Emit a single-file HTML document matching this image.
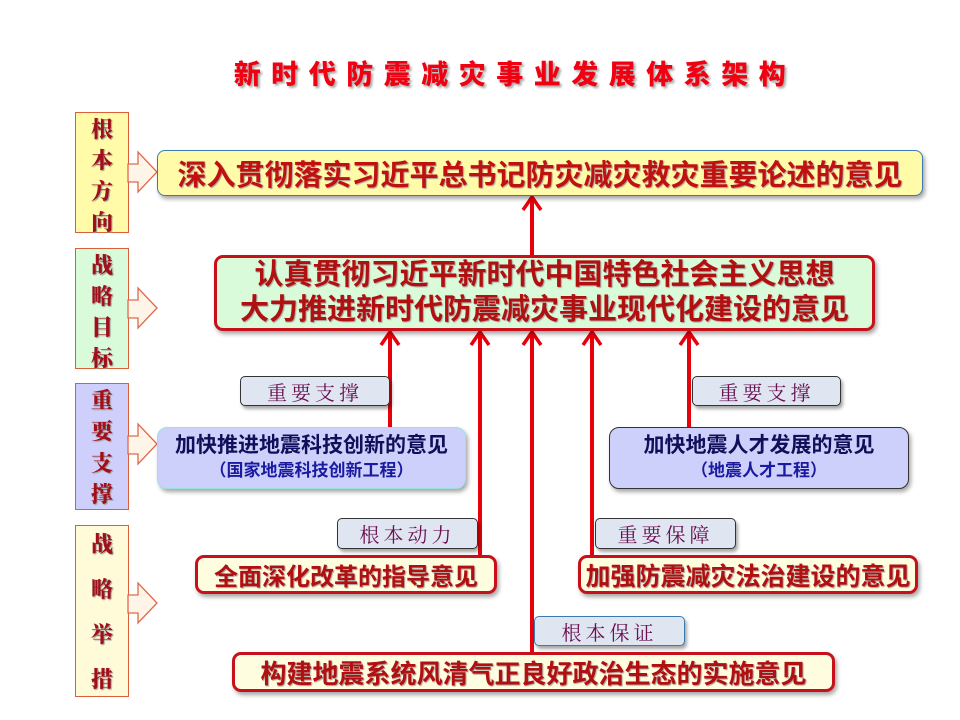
<!DOCTYPE html>
<html><head><meta charset="utf-8"><style>
body{margin:0;width:960px;height:720px;background:#fff;position:relative;overflow:hidden;font-family:"Liberation Sans","Noto Sans CJK SC",sans-serif}
.a{position:absolute;box-sizing:border-box}
.side{border:1.5px solid #d9603a;display:flex;flex-direction:column;justify-content:space-around;align-items:center;font-family:"Noto Serif CJK SC",serif;font-weight:900;font-size:22px;color:#a0101a;text-shadow:1px 1px 1px #999}
.box{display:flex;flex-direction:column;justify-content:center;align-items:center;font-weight:bold;text-align:center;box-shadow:2px 3px 4px rgba(0,0,0,.35);white-space:nowrap}
.red{border:3px solid #c8101a;border-radius:9px;color:#b01010;background:#fffde0;text-shadow:1px 1px 1px #a99}
.lbl{background:#dfe6f2;border:1px solid #333;border-radius:5px;font-family:"Noto Serif CJK SC",serif;font-size:20px;color:#6a1050;letter-spacing:4px;display:flex;align-items:center;justify-content:center;box-shadow:2px 3px 3px rgba(0,0,0,.35)}
.sup{background:#cdd0fb;border-radius:10px;color:#10105a;font-size:21px;line-height:25px}
.sup small{font-size:17px;color:#1a1aa0;font-weight:bold}
</style></head><body>
<div class="a" style="left:0;top:53px;width:1030px;text-align:center;font-size:27px;font-weight:900;color:#f00010;letter-spacing:10.5px;text-shadow:2px 2px 2px #aaa">新时代防震减灾事业发展体系架构</div>

<div class="a side" style="left:75px;top:112px;width:54px;height:121px;background:#fffba8"><span>根</span><span>本</span><span>方</span><span>向</span></div>
<div class="a side" style="left:75px;top:248px;width:54px;height:121px;background:#d9fbd9"><span>战</span><span>略</span><span>目</span><span>标</span></div>
<div class="a side" style="left:75px;top:383px;width:54px;height:127px;background:#cfcffb"><span>重</span><span>要</span><span>支</span><span>撑</span></div>
<div class="a side" style="left:75px;top:525px;width:54px;height:172px;background:#fffbd8;justify-content:center;gap:14px"><span>战</span><span>略</span><span>举</span><span>措</span></div>

<svg class="a" style="left:0;top:0" width="960" height="720">
<g fill="#fff4e8" stroke="#e06a4a" stroke-width="1.3">
<polygon points="128,164 138,164 138,152 157,172 138,192 138,182 128,182"/>
<polygon points="128,300 138,300 138,288 157,308 138,328 138,318 128,318"/>
<polygon points="128,436 138,436 138,424 157,444 138,464 138,454 128,454"/>
<polygon points="128,595 138,595 138,583 157,603 138,623 138,613 128,613"/>
</g>
<g stroke="#e8000a" stroke-width="4" fill="none">
<path d="M532 255V200M532 652V335M390 427V335M480 555V335M592 555V335M689 427V335"/>
<path d="M523 210L532 197L541 210M523 345L532 332L541 345M381 345L390 332L399 345M471 345L480 332L489 345M583 345L592 332L601 345M680 345L689 332L698 345" stroke-width="3.5"/>
</g>
</svg>

<div class="a box" style="left:157px;top:150px;width:766px;height:46px;background:#fffba8;border:1.5px solid #3a7ab0;border-radius:8px;font-size:29px;color:#c01010;text-shadow:1px 1px 1px #a99">深入贯彻落实习近平总书记防灾减灾救灾重要论述的意见</div>
<div class="a box red" style="left:214px;top:255px;width:661px;height:76px;background:#d9fbd9;font-size:29px;line-height:35px">认真贯彻习近平新时代中国特色社会主义思想<br>大力推进新时代防震减灾事业现代化建设的意见</div>

<div class="a lbl" style="left:240px;top:376px;width:150px;height:30px">重要支撑</div>
<div class="a lbl" style="left:692px;top:376px;width:149px;height:30px">重要支撑</div>
<div class="a box sup" style="left:157px;top:427px;width:309px;height:62px;border:1.5px solid #9ee0e0">加快推进地震科技创新的意见<small>（国家地震科技创新工程）</small></div>
<div class="a box sup" style="left:609px;top:427px;width:300px;height:62px;border:1.5px solid #333">加快地震人才发展的意见<small>（地震人才工程）</small></div>

<div class="a lbl" style="left:337px;top:518px;width:141px;height:31px">根本动力</div>
<div class="a lbl" style="left:595px;top:518px;width:141px;height:31px">重要保障</div>
<div class="a box red" style="left:195px;top:555px;width:302px;height:39px;font-size:24px">全面深化改革的指导意见</div>
<div class="a box red" style="left:578px;top:555px;width:340px;height:39px;font-size:25px">加强防震减灾法治建设的意见</div>

<div class="a lbl" style="left:534px;top:616px;width:151px;height:30px;border-color:#3a7ab0">根本保证</div>
<div class="a box red" style="left:232px;top:652px;width:603px;height:40px;font-size:26px">构建地震系统风清气正良好政治生态的实施意见</div>
</body></html>
